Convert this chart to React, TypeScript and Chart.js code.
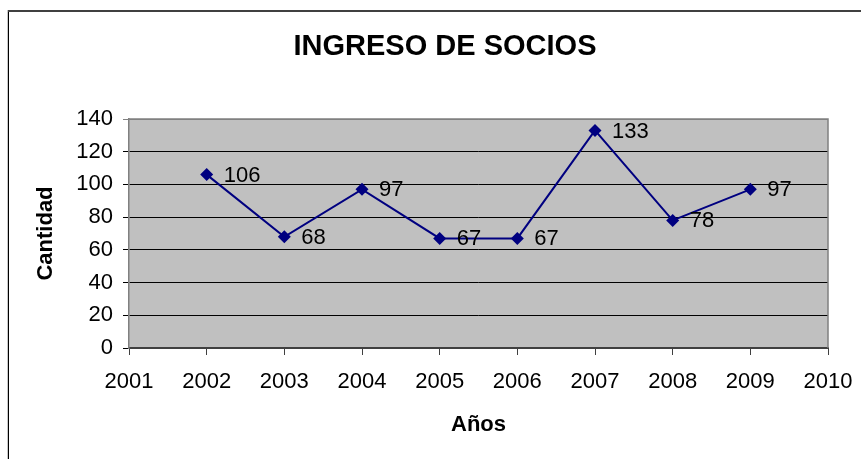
import React, { useEffect, useRef } from "react";
import { Chart, registerables } from "chart.js";

Chart.register(...registerables);

const years = [2002, 2003, 2004, 2005, 2006, 2007, 2008, 2009];
const ingresos = [106, 68, 97, 67, 67, 133, 78, 97];
const xMin = 2001;
const xMax = 2010;
const yMin = 0;
const yMax = 140;
const yStep = 20;

const titleText = "INGRESO DE SOCIOS";
const xTitle = "Años";
const yTitle = "Cantidad";

const FONT = "Arial, 'Liberation Sans', sans-serif";

const frameAndBg = {
  id: "frameAndBg",
  beforeDraw(chart: any) {
    const { ctx, chartArea, width, height } = chart;
    ctx.save();
    ctx.fillStyle = "#ffffff";
    ctx.fillRect(0, 0, width, height);
    // outer frame
    ctx.fillStyle = "#c8c8c8";
    ctx.fillRect(7, 10, 1, height - 10);
    ctx.fillStyle = "#000000";
    ctx.fillRect(8, 10, 1, height - 10);
    ctx.fillStyle = "#404040";
    ctx.fillRect(8, 10, width - 8, 2);
    // plot area
    ctx.fillStyle = "#c0c0c0";
    ctx.fillRect(chartArea.left, chartArea.top, chartArea.right - chartArea.left, chartArea.bottom - chartArea.top);
    ctx.restore();
  },
  beforeDatasetsDraw(chart: any) {
    const { ctx, chartArea } = chart;
    ctx.save();
    ctx.strokeStyle = "#808080";
    ctx.lineWidth = 1.5;
    ctx.beginPath();
    ctx.moveTo(chartArea.left, chartArea.top);
    ctx.lineTo(chartArea.right, chartArea.top);
    ctx.lineTo(chartArea.right, chartArea.bottom);
    ctx.stroke();
    ctx.restore();
  },
};

const dataLabels = {
  id: "dataLabels",
  afterDatasetsDraw(chart: any) {
    const { ctx } = chart;
    const meta = chart.getDatasetMeta(0);
    ctx.save();
    ctx.font = `22px ${FONT}`;
    ctx.fillStyle = "#000000";
    ctx.textAlign = "left";
    ctx.textBaseline = "middle";
    meta.data.forEach((pt: any, i: number) => {
      ctx.fillText(String(ingresos[i]), pt.x + 17, pt.y + 1);
    });
    ctx.restore();
  },
};

export default function App() {
  const ref = useRef<HTMLCanvasElement | null>(null);

  useEffect(() => {
    if (!ref.current) return;
    const chart = new Chart(ref.current, {
      type: "line",
      data: {
        datasets: [
          {
            data: years.map((y, i) => ({ x: y, y: ingresos[i] })),
            borderColor: "#000080",
            backgroundColor: "#000080",
            borderWidth: 2,
            pointStyle: "rectRot",
            pointRadius: 6.5,
            pointBorderWidth: 0,
            tension: 0,
            fill: false,
          },
        ],
      },
      options: {
        responsive: false,
        animation: false,
        layout: { padding: { left: 29, right: 0, top: 0, bottom: 0 } },
        plugins: {
          legend: { display: false },
          tooltip: { enabled: false },
          title: {
            display: true,
            text: titleText,
            color: "#000000",
            font: { family: FONT, size: 29, weight: "bold" },
            padding: { top: 29.6, bottom: 54.6 },
          },
        },
        scales: {
          x: {
            type: "linear",
            min: xMin,
            max: xMax,
            afterFit: (s: any) => {
              s.height = 111;
              s.paddingLeft = 0;
              s.paddingRight = 0;
            },
            ticks: {
              stepSize: 1,
              color: "#000000",
              font: { family: FONT, size: 22 },
              padding: 14,
              maxRotation: 0,
              callback: (v: any) => String(v),
            },
            grid: {
              drawOnChartArea: false,
              drawTicks: true,
              tickLength: 7,
              color: "#404040",
            },
            border: { display: true, color: "#404040", width: 2 },
            title: {
              display: true,
              text: xTitle,
              color: "#000000",
              font: { family: FONT, size: 22, weight: "bold" },
              padding: { top: 0, bottom: 21 },
            },
          },
          y: {
            type: "linear",
            min: yMin,
            max: yMax,
            afterFit: (s: any) => {
              s.width = 100;
            },
            ticks: {
              stepSize: yStep,
              color: "#000000",
              font: { family: FONT, size: 22 },
              padding: 10,
            },
            grid: {
              drawOnChartArea: true,
              drawTicks: true,
              tickLength: 6,
              color: (c: any) => (c.tick && c.tick.value === yMax ? "#808080" : "#000000"),
            },
            border: { display: true, color: "#808080", width: 1.5 },
            title: {
              display: true,
              text: yTitle,
              color: "#000000",
              font: { family: FONT, size: 22, weight: "bold" },
              padding: { top: 4, bottom: 0 },
            },
          },
          yRight: {
            type: "linear",
            position: "right",
            min: yMin,
            max: yMax,
            afterFit: (s: any) => {
              s.width = 33;
            },
            ticks: { display: false },
            grid: { display: false, drawOnChartArea: false },
            border: { display: false },
          },
        },
      },
      plugins: [frameAndBg, dataLabels],
    });
    return () => chart.destroy();
  }, []);

  return (
    <div style={{ position: "fixed", left: 0, top: 0, width: 861, height: 459 }}>
      <canvas ref={ref} width={861} height={459} style={{ display: "block" }} />
    </div>
  );
}
